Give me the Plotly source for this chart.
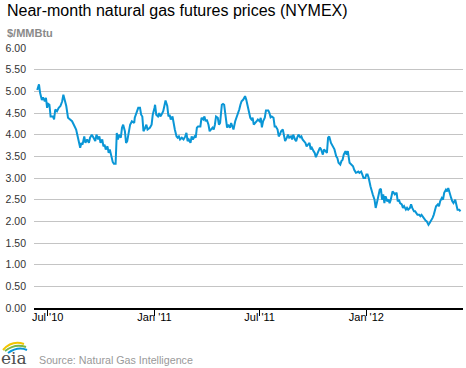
import pandas as pd
import plotly.graph_objects as go

# ---------------- data ----------------
base_date = "2010-07-01"
day_offsets = [
    -18, -15, -13, -10, -8, -5, -3, -1, 1, 3, 5, 9, 11, 13, 16, 19, 22, 25, 27, 29,
    32, 35, 38, 42, 45, 49, 51, 53, 56, 58, 60, 63, 65, 68, 71, 73, 76, 79, 82, 84,
    87, 89, 91, 94, 96, 98, 100, 103, 105, 107, 110, 112, 114, 117, 119, 121, 123, 126, 128, 130,
    133, 135, 137, 140, 142, 145, 149,
    150, 153, 156, 159, 161, 163, 165, 168, 170, 172, 176, 179, 181, 184, 185, 187, 190, 192, 194, 196,
    199, 201, 203, 206, 208, 210, 212, 215, 217, 219, 222, 224, 226, 228, 231, 234, 237, 239, 241, 243,
    246, 248, 250, 253, 255, 257, 259, 263, 265, 268, 270, 272, 274, 277, 279, 281, 284, 286, 288, 290,
    293, 295, 297, 300, 302, 304, 307, 309, 311, 314, 316, 318, 320, 323, 325, 327, 330, 332, 334,
    337, 340, 342, 344, 346, 349, 351, 353, 355, 358, 360, 362, 365, 367, 369, 371, 374, 376, 380, 382,
    384, 386, 389, 391, 393, 396, 398, 400, 402, 405, 407, 409, 412, 414, 416, 419, 421, 423, 426, 428,
    430, 432, 435, 437, 439, 442, 444, 446, 448, 451, 453, 455, 458, 460, 462, 464, 467, 469, 471, 474,
    476, 478, 481, 483, 485, 488, 490, 492, 494, 497, 499, 501, 504, 506, 508, 510, 513, 515, 517,
    520, 524, 526, 528, 531, 533, 535, 537, 540, 542, 544, 547, 549, 551, 553, 556, 558, 560, 563, 565,
    567, 570, 572, 574, 576, 578, 580, 582, 585, 587, 589, 591, 594, 596, 598, 601, 603, 605, 607, 610,
    612, 614, 617, 619, 621, 624, 626, 628, 631, 633, 635, 637, 640, 642, 644, 647, 649, 651, 653, 656,
    658, 660, 663, 665, 667, 669, 672, 674, 676, 679, 681, 683, 686, 688, 690, 693, 695, 697, 699, 702,
    704, 706, 709, 711,
]
prices = [
    5.03, 5.16, 4.96, 4.80, 4.86, 4.77, 4.85, 4.62, 4.71, 4.69, 4.42, 4.42, 4.35, 4.58, 4.54, 4.62, 4.66, 4.77, 4.92, 4.81,
    4.66, 4.39, 4.35, 4.31, 4.23, 4.12, 4.00, 3.85, 3.70, 3.81, 3.77, 3.96, 3.81, 3.89, 3.81, 3.93, 4.00, 3.93, 3.85, 4.00,
    3.89, 3.96, 3.81, 3.89, 3.73, 3.77, 3.66, 3.73, 3.58, 3.66, 3.46, 3.37, 3.33, 3.33, 4.04, 3.89, 4.00, 3.93, 4.16, 4.23,
    4.08, 3.81, 3.85, 4.08, 4.23, 4.31, 4.27,
    4.39, 4.50, 4.62, 4.62, 4.46, 4.42, 4.08, 4.16, 4.23, 4.12, 4.16, 4.23, 4.46, 4.62, 4.69, 4.46, 4.42, 4.50, 4.42, 4.46,
    4.54, 4.66, 4.79, 4.66, 4.42, 4.46, 4.35, 4.42, 4.23, 4.12, 3.96, 3.93, 3.96, 3.89, 3.93, 3.89, 3.96, 4.04, 3.85, 3.89,
    3.81, 3.96, 3.89, 3.96, 3.93, 4.16, 4.19, 4.19, 4.39, 4.35, 4.42, 4.31, 4.35, 4.23, 4.08, 4.12, 4.16, 4.12, 4.23, 4.42,
    4.39, 4.23, 4.27, 4.69, 4.71, 4.69, 4.27, 4.16, 4.23, 4.16, 4.27, 4.19, 4.12, 4.31, 4.39, 4.42, 4.58, 4.69, 4.77,
    4.81, 4.89, 4.81, 4.69, 4.62, 4.39, 4.35, 4.39, 4.23, 4.27, 4.31, 4.35, 4.31, 4.39, 4.17, 4.31, 4.39, 4.56, 4.56, 4.50,
    4.40, 4.42, 4.39, 4.19, 4.19, 4.12, 3.96, 4.00, 4.08, 4.12, 3.96, 3.85, 3.93, 4.00, 3.93, 3.96, 3.89, 4.00, 3.89, 3.85,
    3.94, 4.00, 3.94, 3.96, 3.89, 3.85, 3.81, 3.73, 3.77, 3.81, 3.66, 3.70, 3.62, 3.58, 3.48, 3.54, 3.62, 3.70, 3.66, 3.54,
    3.66, 3.62, 3.58, 3.93, 3.96, 3.81, 3.77, 3.73, 3.66, 3.50, 3.46, 3.35, 3.31, 3.39, 3.42, 3.54, 3.62, 3.54, 3.62,
    3.35, 3.31, 3.27, 3.19, 3.12, 3.13, 3.15, 3.12, 3.15, 3.08, 3.00, 3.00, 3.08, 3.08, 3.00, 2.81, 2.69, 2.62, 2.50, 2.31,
    2.42, 2.58, 2.73, 2.75, 2.50, 2.62, 2.42, 2.58, 2.46, 2.50, 2.42, 2.50, 2.69, 2.66, 2.62, 2.66, 2.46, 2.50, 2.42, 2.39,
    2.31, 2.35, 2.27, 2.31, 2.27, 2.31, 2.39, 2.31, 2.23, 2.23, 2.19, 2.15, 2.15, 2.12, 2.15, 2.08, 2.04, 2.02, 2.00, 1.92,
    1.96, 2.00, 2.08, 2.15, 2.27, 2.35, 2.39, 2.35, 2.46, 2.54, 2.50, 2.66, 2.73, 2.69, 2.77, 2.66, 2.54, 2.46, 2.42, 2.50,
    2.39, 2.27, 2.27, 2.23,
]

tick_dates = ["2010-07-01", "2011-01-01", "2011-07-01", "2012-01-01"]
tick_labels = ["Jul '10", "Jan '11", "Jul '11", "Jan '12"]
y_ticks = [0.0, 0.5, 1.0, 1.5, 2.0, 2.5, 3.0, 3.5, 4.0, 4.5, 5.0, 5.5, 6.0]

title_text = "Near-month natural gas futures prices (NYMEX)"
unit_text = "$/MMBtu"
source_text = "Source: Natural Gas Intelligence"

# ---------------- figure ----------------
W, H = 466, 368
ML, MR, MT, MB = 34, 3, 48, 60
PW, PH = W - ML - MR, H - MT - MB


def px(x):
    return (x - ML) / PW


def py(y):
    return (H - MB - y) / PH


dates = pd.Timestamp(base_date) + pd.to_timedelta(day_offsets, unit="D")

FONT = "Arial, 'Liberation Sans', sans-serif"

fig = go.Figure()
fig.add_trace(go.Scatter(
    x=dates, y=prices, mode="lines",
    line=dict(color="#0a96d6", width=2),
    hoverinfo="skip", showlegend=False,
))

fig.update_layout(
    width=W, height=H, autosize=False,
    margin=dict(l=ML, r=MR, t=MT, b=MB, pad=0),
    paper_bgcolor="white", plot_bgcolor="white",
    font=dict(family=FONT, size=11, color="#333333"),
    showlegend=False,
)

fig.update_xaxes(
    type="date",
    range=["2010-06-07 10:00", "2012-06-15 10:00"],
    tickvals=tick_dates, ticktext=tick_labels,
    ticks="outside", ticklen=6, tickwidth=1, tickcolor="#000000",
    ticklabelstandoff=-8,
    showgrid=False, zeroline=False,
    showline=True, linecolor="#000000", linewidth=1.5,
    tickfont=dict(family=FONT, size=11, color="#000000"),
    fixedrange=True,
)
fig.update_yaxes(
    range=[0, 6], tickvals=y_ticks, tickformat=".2f",
    showgrid=True, gridcolor="#c4c4c4", gridwidth=1,
    zeroline=False, showline=False, ticks="",
    ticklabelstandoff=7,
    tickfont=dict(family=FONT, size=10.5, color="#333333"),
    fixedrange=True,
)

ann = []
ann.append(dict(text=title_text, xref="paper", yref="paper", x=px(5), y=py(10),
                xanchor="left", yanchor="middle", showarrow=False,
                font=dict(family=FONT, size=16, color="#000000")))
ann.append(dict(text="<b>" + unit_text + "</b>", xref="paper", yref="paper", x=px(5), y=py(33),
                xanchor="left", yanchor="middle", showarrow=False,
                font=dict(family=FONT, size=11, color="#8a8a8a")))
ann.append(dict(text=source_text, xref="paper", yref="paper", x=px(37), y=py(360),
                xanchor="left", yanchor="middle", showarrow=False,
                font=dict(family=FONT, size=10.7, color="#999999")))
ann.append(dict(text="eia", xref="paper", yref="paper", x=px(-1), y=py(358),
                xanchor="left", yanchor="middle", showarrow=False,
                font=dict(family="'DejaVu Serif', serif", size=17, color="#4d4d4d")))
fig.update_layout(annotations=ann)


def arc(x0, y0, xc, yc, x1, y1):
    return f"M {px(x0)},{py(y0)} Q {px(xc)},{py(yc)} {px(x1)},{py(y1)}"


shapes = [
    dict(type="path", xref="paper", yref="paper", path=arc(3, 350, 12, 340, 24, 344),
         line=dict(color="#f2c500", width=2)),
    dict(type="path", xref="paper", yref="paper", path=arc(5, 351, 15, 343, 26, 347),
         line=dict(color="#7ab648", width=2)),
    dict(type="path", xref="paper", yref="paper", path=arc(8, 353, 18, 346, 27, 350),
         line=dict(color="#0a96d6", width=2)),
]
fig.update_layout(shapes=shapes)

fig.write_html(
    "out.html",
    config={"displayModeBar": False, "staticPlot": True},
    post_script="document.body.style.margin='0px';document.body.style.padding='0px';"
                "document.body.style.overflow='hidden';",
)
